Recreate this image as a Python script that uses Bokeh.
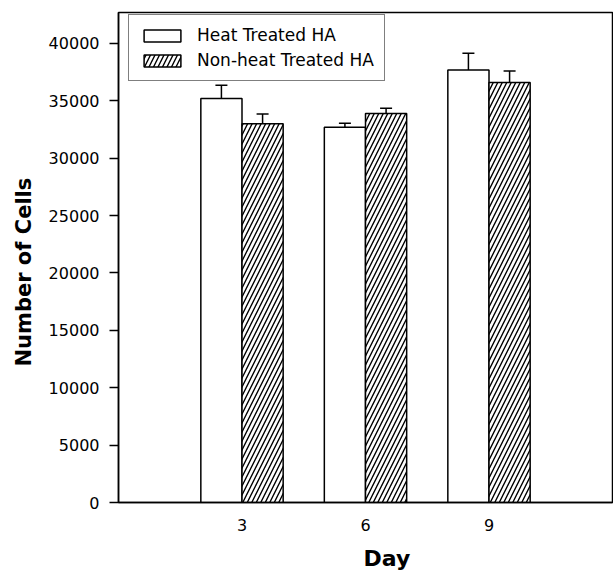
import pandas as pd
from bokeh.plotting import figure
from bokeh.models import (ColumnDataSource, Whisker, TeeHead, Legend, LegendItem,
                          Range1d, FixedTicker, Title)
from bokeh.embed import file_html
from bokeh.resources import INLINE

# ---- data ----
days = [3, 6, 9]
day_labels = ["3", "6", "9"]
heat_treated = [35200, 32700, 37700]
heat_treated_err = [1150, 350, 1450]
non_heat_treated = [33000, 33900, 36600]
non_heat_treated_err = [850, 450, 1000]
y_ticks = [0, 5000, 10000, 15000, 20000, 25000, 30000, 35000, 40000]
series_names = ["Heat Treated HA", "Non-heat Treated HA"]

df = pd.DataFrame({
    "day": days,
    "heat": heat_treated,
    "heat_err": heat_treated_err,
    "non": non_heat_treated,
    "non_err": non_heat_treated_err,
})
df["heat_x"] = df["day"] - 0.5
df["non_x"] = df["day"] + 0.5
df["heat_up"] = df["heat"] + df["heat_err"]
df["non_up"] = df["non"] + df["non_err"]
src = ColumnDataSource(df)

W, H = 613, 586
FONT = "DejaVu Sans"
ML, MT, MR, MB = 117, 12, 1, 84
FRAME_H = H - MT - MB

p = figure(width=W, height=H, output_backend="svg", toolbar_location=None,
           x_range=Range1d(0, 12), y_range=Range1d(0, 42700),
           min_border_left=ML, min_border_right=MR, min_border_top=MT,
           min_border_bottom=MB)
p.background_fill_color = "white"
p.border_fill_color = "white"
p.outline_line_color = "black"
p.outline_line_width = 1.5
p.xgrid.visible = False
p.ygrid.visible = False

lw = 1.5
r_heat = p.vbar(x="heat_x", top="heat", bottom=0, width=1, source=src,
                fill_color="white", line_color="black", line_width=lw)
r_non = p.vbar(x="non_x", top="non", bottom=0, width=1, source=src,
               fill_color="white", line_color="black", line_width=lw,
               hatch_pattern="/", hatch_color="black", hatch_scale=9,
               hatch_weight=1.4)

for xcol, lo, up in (("heat_x", "heat", "heat_up"), ("non_x", "non", "non_up")):
    w = Whisker(source=src, base=xcol, lower=lo, upper=up,
                line_color="black", line_width=lw, lower_head=None,
                upper_head=TeeHead(size=12, line_color="black", line_width=lw))
    p.add_layout(w)

# axes
yax = p.yaxis[0]
yax.ticker = FixedTicker(ticks=y_ticks)
yax.major_tick_out = 9
yax.major_tick_in = 0
yax.minor_tick_out = 0
yax.minor_tick_in = 0
yax.axis_line_width = lw
yax.major_tick_line_width = lw
yax.major_label_text_font = FONT
yax.major_label_text_font_size = "16px"
yax.major_label_text_color = "black"
yax.major_label_standoff = 10

xax = p.xaxis[0]
xax.ticker = FixedTicker(ticks=days)
xax.major_label_overrides = {d: l for d, l in zip(days, day_labels)}
xax.major_tick_out = 0
xax.major_tick_in = 0
xax.minor_tick_out = 0
xax.minor_tick_in = 0
xax.axis_line_width = lw
xax.major_label_text_font = FONT
xax.major_label_text_font_size = "16px"
xax.major_label_text_color = "black"
xax.major_label_standoff = 16

# axis titles as side titles (left-aligned with a pixel offset along the axis)
day_title = Title(text="Day", align="left", offset=245,
                  text_font=FONT, text_font_size="22px", text_font_style="bold",
                  text_color="black", standoff=21)
p.add_layout(day_title, "below")
y_title = Title(text="Number of Cells", align="left", offset=136,
                text_font=FONT, text_font_size="21px", text_font_style="bold",
                text_color="black", standoff=19)
p.add_layout(y_title, "left")

legend = Legend(items=[LegendItem(label=series_names[0], renderers=[r_heat]),
                       LegendItem(label=series_names[1], renderers=[r_non])],
                location=(10, FRAME_H - 4 - 65))
legend.margin = 0
legend.padding = 10
legend.spacing = 5
legend.glyph_width = 46
legend.glyph_height = 15
legend.label_height = 15
legend.label_standoff = 12
legend.label_text_font = FONT
legend.label_text_font_size = "17px"
legend.label_text_color = "black"
legend.border_line_color = "black"
legend.border_line_width = lw
legend.background_fill_alpha = 1
p.add_layout(legend, "center")

open("out.html", "w").write(file_html(p, INLINE))
